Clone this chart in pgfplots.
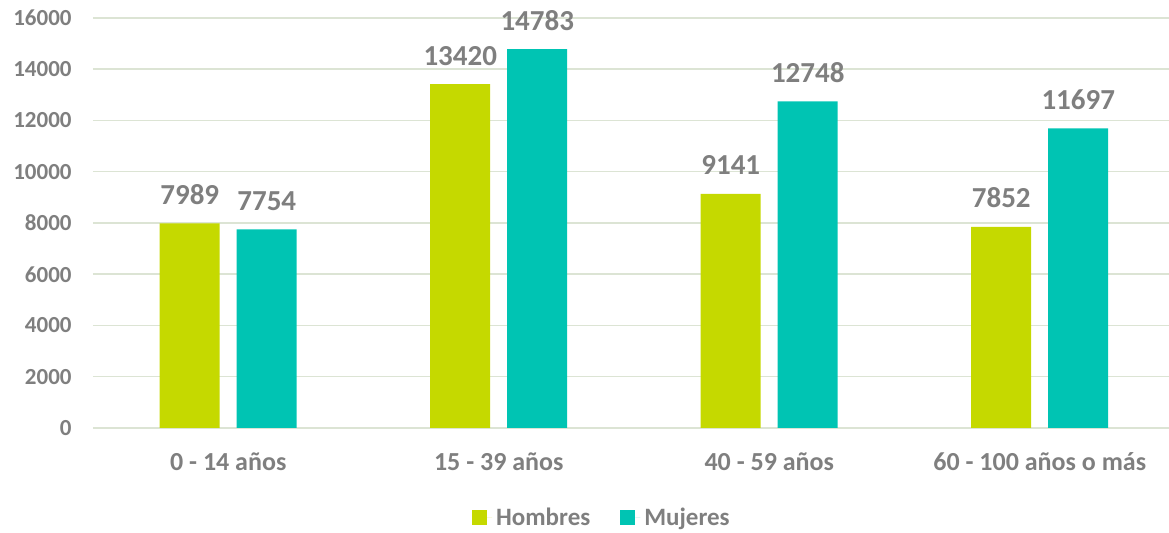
\documentclass[border=0pt]{standalone}
\usepackage{pgfplots}
\pgfplotsset{compat=1.18}
\usepackage{fontspec}
\setmainfont{Carlito}
\definecolor{hom}{HTML}{C5D900}
\definecolor{muj}{HTML}{00C4B3}
\definecolor{txt}{HTML}{7F7F7F}
\definecolor{grd}{HTML}{DCE4D4}
\begin{document}
\begin{tikzpicture}
\begin{axis}[
  at={(0,0)}, anchor=south west,
  scale only axis, width=541pt, height=205pt,
  ybar=8.5pt, bar width=30pt,
  xmin=-0.5, xmax=3.5, ymin=0, ymax=16000,
  xtick=data,
  xticklabels={0 - 14 años, 15 - 39 años, 40 - 59 años, 60 - 100 años o más},
  ytick={0,2000,...,16000},
  scaled y ticks=false,
  axis line style={draw=none},
  xtick pos=bottom, ytick pos=left,
  major tick length=0pt,
  ymajorgrids, grid style={draw=grd, line width=0.75pt},
  /pgf/number format/assume math mode=true,
  /pgf/number format/set thousands separator={},
  yticklabel style={font=\fontsize{11.5}{13}\selectfont\bfseries, text=txt, anchor=east, inner sep=0pt, xshift=-10.5pt, /pgf/number format/fixed},
  xticklabel style={font=\fontsize{13}{15}\selectfont\bfseries, text=txt, anchor=base, inner sep=0pt, yshift=-21.5pt},
  nodes near coords,
  every node near coord/.append style={font=\fontsize{14.5}{16}\selectfont\bfseries, text=txt, anchor=base, inner sep=0pt, yshift=9.5pt, /pgf/number format/assume math mode=true},
  legend columns=2,
  legend style={at={(0.4713,-0.2195)}, anchor=center, draw=none, fill=none,
    font=\fontsize{12.5}{14}\selectfont\bfseries, text=txt,
    /tikz/every even column/.append style={column sep=13pt}},
  legend image code/.code={\fill[#1] (0pt,-3.75pt) rectangle (7.5pt,3.75pt); \path (7.5pt,0pt) -- (10pt,0pt);},
]
\addplot[fill=hom, draw=none] coordinates {(0,7989) (1,13420) (2,9141) (3,7852)};
\addplot[fill=muj, draw=none] coordinates {(0,7754) (1,14783) (2,12748) (3,11697)};
\legend{Hombres, Mujeres}
\end{axis}
\pgfresetboundingbox
\path (-46.5pt,-52.5pt) rectangle (538pt,214pt);
\end{tikzpicture}
\end{document}
